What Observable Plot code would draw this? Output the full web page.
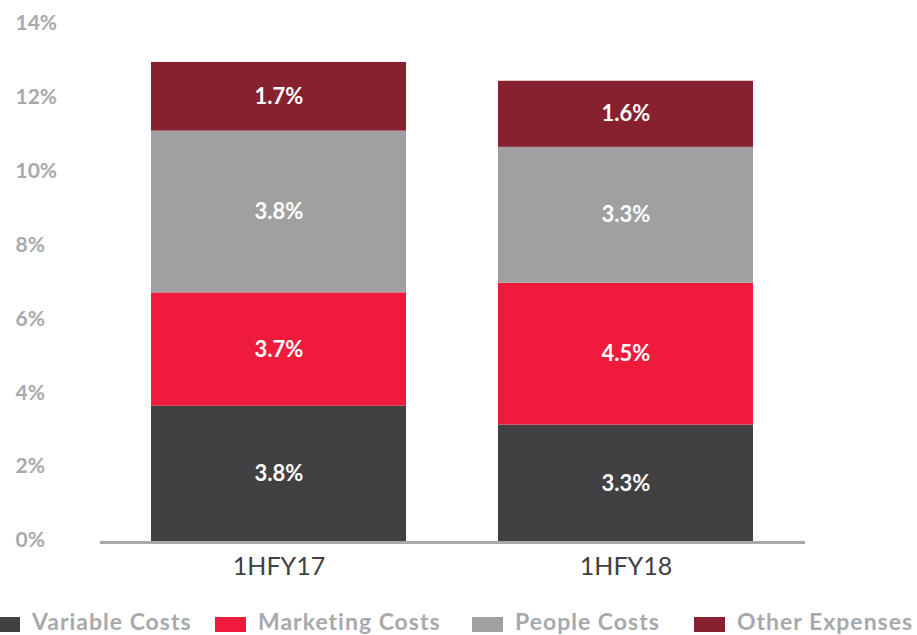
<!DOCTYPE html>
<html><head><meta charset="utf-8">
<script src="https://cdn.jsdelivr.net/npm/d3@7"></script>
<script src="https://cdn.jsdelivr.net/npm/@observablehq/plot@0.6"></script>
<style>
html,body{margin:0;padding:0;background:#fff;}
body{width:917px;height:635px;position:relative;overflow:hidden;font-family:Lato,"Open Sans",sans-serif;}
#chart{position:absolute;left:0;top:0;}
#legend{position:absolute;left:0;top:605px;width:917px;height:30px;overflow:hidden;}
.item{position:absolute;top:0;height:30px;white-space:nowrap;}
.sw{position:absolute;top:12px;width:31px;height:15px;}
.lbl{position:absolute;left:43px;top:1px;font-size:23px;font-weight:700;color:#a7a9ac;line-height:30px;letter-spacing:1px;}
</style></head>
<body><div id="chart"></div><div id="legend"></div>
<script>
const periods = ["1HFY17", "1HFY18"];
const categories = ["Variable Costs", "Marketing Costs", "People Costs", "Other Expenses"];
const colors = ["#414042", "#ee1b3d", "#a0a0a0", "#87212f"];
// segment heights as drawn in the picture (%)
const variableCosts = [3.69, 3.18];
const marketingCosts = [3.07, 3.84];
const peopleCosts = [4.38, 3.68];
const otherExpenses = [1.86, 1.79];
// printed labels
const variableLabels = ["3.8%", "3.3%"];
const marketingLabels = ["3.7%", "4.5%"];
const peopleLabels = ["3.8%", "3.3%"];
const otherLabels = ["1.7%", "1.6%"];
const yTicks = [0, 2, 4, 6, 8, 10, 12, 14];
const legendX = [-11, 215, 472, 694];

const seriesValues = [variableCosts, marketingCosts, peopleCosts, otherExpenses];
const seriesLabels = [variableLabels, marketingLabels, peopleLabels, otherLabels];
const data = [];
categories.forEach((c, ci) => periods.forEach((p, pi) => {
  data.push({period: p, category: c, value: seriesValues[ci][pi], label: seriesLabels[ci][pi]});
}));

const chart = Plot.plot({
  width: 917,
  height: 595,
  marginLeft: 100,
  marginRight: 112,
  marginTop: 25,
  marginBottom: 53,
  style: {fontFamily: "Lato, 'Open Sans', sans-serif", background: "#fff"},
  x: {domain: periods, paddingInner: 0.264, paddingOuter: 0.145, label: null},
  y: {domain: [0, 14], label: null},
  color: {domain: categories, range: colors},
  marks: [
    Plot.barY(data, {x: "period", y: "value", fill: "category", z: "category"}),
    Plot.text(data, Plot.stackY({x: "period", y: "value", z: "category", text: "label",
      fill: "#fff", fontSize: 22, fontWeight: 700, letterSpacing: 1})),
    Plot.ruleY([0], {stroke: "#a7a9ac", strokeWidth: 3}),
    Plot.axisY({ticks: yTicks, tickFormat: d => d + "%", tickSize: 0, tickPadding: 85,
      textAnchor: "start", fontSize: 21, fontWeight: 700, fill: "#a7a9ac", dy: -2}),
    Plot.axisX({tickSize: 0, tickPadding: 15, fontSize: 25, fill: "#414042", letterSpacing: 1.5})
  ]
});
document.getElementById("chart").appendChild(chart);

const legend = document.getElementById("legend");
categories.forEach((c, i) => {
  const it = document.createElement("div");
  it.className = "item";
  it.style.left = legendX[i] + "px";
  it.innerHTML = `<span class="sw" style="background:${colors[i]}"></span><span class="lbl">${c}</span>`;
  legend.appendChild(it);
});
</script>
</body></html>
